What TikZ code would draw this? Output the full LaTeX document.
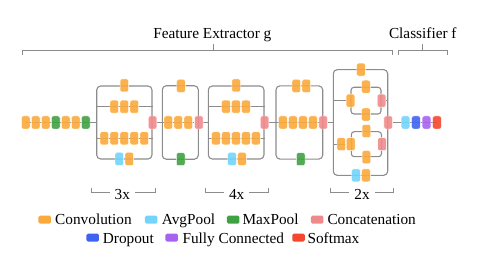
\documentclass[tikz,border=0pt]{standalone}
\usepackage{fontspec}
\setmainfont{Liberation Serif}
\definecolor{conv}{HTML}{FBA93A}
\definecolor{avgp}{HTML}{72D4FB}
\definecolor{maxp}{HTML}{3FA142}
\definecolor{cat}{HTML}{EF8A8C}
\definecolor{drop}{HTML}{3E63F2}
\definecolor{fc}{HTML}{A862F0}
\definecolor{smax}{HTML}{F4472E}
\definecolor{lgray}{HTML}{8C8C8C}
\pgfdeclarelayer{bg}
\pgfsetlayers{bg,main}
\begin{document}
\begin{tikzpicture}[x=1pt,y=-1pt,
  blk/.style={rectangle, rounded corners=2pt, minimum width=8.6pt, minimum height=13pt, inner sep=0pt, draw=white, line width=0.4pt, fill opacity=0.9},
  cv/.style={blk, fill=conv},
  ap/.style={blk, fill=avgp},
  mp/.style={blk, fill=maxp},
  ct/.style={blk, fill=cat},
  dr/.style={blk, fill=drop},
  fcb/.style={blk, fill=fc},
  sm/.style={blk, fill=smax},
  wire/.style={draw=lgray, line width=1pt},
  frame/.style={rectangle, draw=lgray, line width=1.1pt, rounded corners=4pt, inner sep=0pt},
  brk/.style={draw=lgray, line width=0.9pt},
  lab/.style={font=\fontsize{15.3}{18}\selectfont, inner sep=0pt},
  lg/.style={rectangle, rounded corners=1.5pt, minimum width=12.5pt, minimum height=8pt, inner sep=0pt}
]
\useasboundingbox (0,0) rectangle (480,264);

% frames
\begin{pgfonlayer}{bg}
\node[frame, minimum width=55.3pt, minimum height=73pt] (B1) at (124.35,122.5) {};
\node[frame, minimum width=36pt, minimum height=73.5pt] (B2) at (180.3,122.5) {};
\node[frame, minimum width=55.7pt, minimum height=73pt] (B3) at (236.15,122.5) {};
\node[frame, minimum width=46.7pt, minimum height=73.3pt] (B4) at (299.35,122.5) {};
\node[frame, minimum width=54.4pt, minimum height=105.7pt] (B5) at (360.5,122.5) {};
\node[frame, rounded corners=3pt, minimum width=30pt, minimum height=26.7pt] (U) at (366,100.65) {};
\node[frame, rounded corners=3pt, minimum width=30.2pt, minimum height=25pt] (L) at (366.4,144.2) {};
\end{pgfonlayer}

% stem
\foreach \i/\s in {1/cv,2/cv,3/cv,4/mp,5/cv,6/cv,7/mp}
  \node[\s] (s\i) at ({15.7+10*\i},122.5) {};

% block 1
\node[cv] (t1) at (B1.north) {};
\foreach \i/\x in {1/114.3,2/124.3,3/134.3} \node[cv] (a1\i) at (\x,106.7) {};
\foreach \i/\x in {1/104.3,2/114.3,3/124.3,4/134.3,5/144.3} \node[cv] (b1\i) at (\x,138.3) {};
\node[ap] (p1) at (119.3,159) {};
\node[cv] (q1) at (129.3,159) {};
\node[ct] (c1) at (B1.east) {};

% block 2
\node[cv] (t2) at (181,86) {};
\foreach \i/\x in {1/168.3,2/178.3,3/188.3} \node[cv] (m2\i) at (\x,122.5) {};
\node[mp] (g2) at (180.7,159.2) {};
\node[ct] (c2) at (B2.east) {};

% block 3
\node[cv] (t3) at (B3.north) {};
\foreach \i/\x in {1/226,2/236,3/246} \node[cv] (a3\i) at (\x,106.7) {};
\foreach \i/\x in {1/216,2/226,3/236,4/246,5/256} \node[cv] (b3\i) at (\x,138.3) {};
\node[ap] (p3) at (232,159) {};
\node[cv] (q3) at (242,159) {};
\node[ct] (c3) at (B3.east) {};

% block 4
\node[cv] (t4a) at (296.3,86) {};
\node[cv] (t4b) at (306.3,86) {};
\foreach \i/\x in {1/283,2/293,3/303,4/313} \node[cv] (m4\i) at (\x,122.5) {};
\node[mp] (g4) at (300.7,159.2) {};
\node[ct] (c4) at (B4.east) {};

% block 5
\node[cv] (t5) at (361,69.65) {};
\node[ap] (p5) at (356,175.35) {};
\node[cv] (q5) at (366,175.35) {};
\node[cv] (u1) at (U.west) {};
\node[cv] (ut) at (U.north) {};
\node[cv] (ub) at (U.south) {};
\node[ct] (uc) at (U.east) {};
\node[cv] (l1) at (341.3,144.2) {};
\node[cv] (l2) at (L.west) {};
\node[cv] (lt) at (L.north) {};
\node[cv] (lb) at (L.south) {};
\node[ct] (lc) at (L.east) {};
\node[ct] (c5) at (B5.east) {};

% classifier
\node[ap] (k1) at (405.5,122.5) {};
\node[dr] (k2) at (416,122.5) {};
\node[fcb] (k3) at (426.5,122.5) {};
\node[sm] (k4) at (437,122.5) {};

% wires
\begin{pgfonlayer}{bg}
\draw[wire] (s1.center) -- (B1.west);
\draw[wire] (B1.west |- a11.center) -- (B1.east |- a11.center);
\draw[wire] (B1.west |- b11.center) -- (B1.east |- b11.center);
\draw[wire] (c1) -- (B2.west);
\draw[wire] (B2.west) -- (c2);
\draw[wire] (c2) -- (B3.west);
\draw[wire] (B3.west |- a31.center) -- (B3.east |- a31.center);
\draw[wire] (B3.west |- b31.center) -- (B3.east |- b31.center);
\draw[wire] (c3) -- (B4.west);
\draw[wire] (B4.west) -- (c4);
\draw[wire] (c4) -- (B5.west);
\draw[wire] (B5.west |- u1.center) -- (u1);
\draw[wire] (uc) -- (B5.east |- uc.center);
\draw[wire] (B5.west |- l1.center) -- (l2);
\draw[wire] (lc) -- (B5.east |- lc.center);
\draw[wire] (c5) -- (k4.center);
\end{pgfonlayer}

% top brackets
\draw[brk] (22,55) -- (22,50) -- (392.3,50) -- (392.3,55);
\draw[brk] (213.3,50) -- (213.3,44.5);
\node[lab, anchor=base] (fe) at (212.3,38.3) {Feature Extractor g};
\draw[brk] (398.3,55) -- (398.3,50) -- (447.3,50) -- (447.3,55);
\draw[brk] (422.7,50) -- (422.7,44.5);
\node[lab, anchor=base] (cl) at (422.8,38.3) {Classifier f};

% bottom brackets
\draw[brk] (91.7,187.7) -- (91.7,192.3) -- (155,192.3) -- (155,187.7);
\node[lab, anchor=base, fill=white, inner xsep=5pt, inner ysep=1pt] (r3) at (122.3,200) {3x};
\draw[brk] (205,187.7) -- (205,192.3) -- (268.3,192.3) -- (268.3,187.7);
\node[lab, anchor=base, fill=white, inner xsep=5pt, inner ysep=1pt] (r4) at (236.7,200) {4x};
\draw[brk] (330.7,187.7) -- (330.7,192.3) -- (393.3,192.3) -- (393.3,187.7);
\node[lab, anchor=base, fill=white, inner xsep=5pt, inner ysep=1pt] (r2) at (362,200) {2x};

% legend
\node[lg, fill=conv] (lg1) at (44.7,219.7) {};
\node[lab, anchor=base west] (lt1) at (55,225) {Convolution};
\node[lg, fill=avgp] (lg2) at (151.2,219.7) {};
\node[lab, anchor=base west] (lt2) at (161.7,225) {AvgPool};
\node[lg, fill=maxp] (lg3) at (233.2,219.7) {};
\node[lab, anchor=base west] (lt3) at (242.3,225) {MaxPool};
\node[lg, fill=cat] (lg4) at (317.2,219.7) {};
\node[lab, anchor=base west] (lt4) at (327.3,225) {Concatenation};
\node[lg, fill=drop] (lg5) at (92.7,237.7) {};
\node[lab, anchor=base west] (lt5) at (102.7,243.3) {Dropout};
\node[lg, fill=fc] (lg6) at (171.7,237.7) {};
\node[lab, anchor=base west] (lt6) at (182.3,243.3) {Fully Connected};
\node[lg, fill=smax] (lg7) at (298.5,237.7) {};
\node[lab, anchor=base west] (lt7) at (307.3,243.3) {Softmax};
\end{tikzpicture}
\end{document}
